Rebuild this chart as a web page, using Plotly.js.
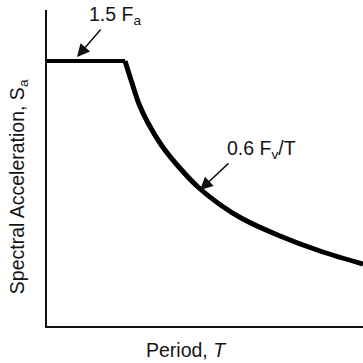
<!DOCTYPE html>
<html>
<head>
<meta charset="utf-8">
<script src="https://cdn.plot.ly/plotly-3.0.1.min.js"></script>
<style>html,body{margin:0;padding:0;background:#fff;}#chart{width:363px;height:363px;}</style>
</head>
<body>
<div id="chart"></div>
<script>
// Plateau segment (1.5 Fa) and descending branch (0.6 Fv/T)
const plateauT = [0, 0.78];
const plateauSa = [2.65, 2.65];
const curveT = [0.78, 0.85, 0.92, 1.01, 1.15, 1.31, 1.51, 1.75, 1.95, 2.33, 2.73, 3.16];
const curveSa = [2.65, 2.43, 2.22, 2.03, 1.80, 1.60, 1.39, 1.20, 1.075, 0.90, 0.75, 0.62];
const labelPlateau = "1.5 F<sub>a</sub>";
const labelCurve = "0.6 F<sub>v</sub>/T";
const xTitle = "Period, <i>T</i>";
const yTitle = "Spectral Acceleration, S<sub>a</sub>";

const font = {family: "Liberation Sans, Arial, sans-serif", size: 19.5, color: "#151515"};
const lineColor = "#000";

const data = [
  {x: plateauT, y: plateauSa, mode: "lines", line: {color: lineColor, width: 4}, hoverinfo: "skip"},
  {x: curveT, y: curveSa, mode: "lines", line: {color: lineColor, width: 5, shape: "spline", smoothing: 1}, hoverinfo: "skip"}
];

const layout = {
  width: 363, height: 363,
  margin: {l: 47, r: 0, t: 10, b: 37},
  paper_bgcolor: "#fff", plot_bgcolor: "#fff",
  showlegend: false,
  font: font,
  xaxis: {range: [0, 3.16], showgrid: false, zeroline: false, showticklabels: false, ticks: "",
          showline: true, linecolor: "#111", linewidth: 2, fixedrange: true},
  yaxis: {range: [0, 3.16], showgrid: false, zeroline: false, showticklabels: false, ticks: "",
          showline: true, linecolor: "#111", linewidth: 2, fixedrange: true},
  annotations: [
    {x: 0.443, y: -0.076, xref: "paper", yref: "paper", text: xTitle, showarrow: false, font: font, xanchor: "center", yanchor: "middle"},
    {x: -0.088, y: 0.44, xref: "paper", yref: "paper", text: yTitle, showarrow: false, font: font, textangle: -90, xanchor: "center", yanchor: "middle"},
    {x: 0.68, y: 3.11, xref: "x", yref: "y", text: labelPlateau, showarrow: false, font: font, xanchor: "center", yanchor: "middle"},
    {x: 0.30, y: 2.69, ax: 0.55, ay: 2.98, xref: "x", yref: "y", axref: "x", ayref: "y", text: "",
     showarrow: true, arrowhead: 2, arrowsize: 1.7, arrowwidth: 1.5, arrowcolor: "#111"},
    {x: 2.14, y: 1.77, xref: "x", yref: "y", text: labelCurve, showarrow: false, font: font, xanchor: "center", yanchor: "middle"},
    {x: 1.53, y: 1.36, ax: 1.83, ay: 1.64, xref: "x", yref: "y", axref: "x", ayref: "y", text: "",
     showarrow: true, arrowhead: 2, arrowsize: 1.7, arrowwidth: 1.5, arrowcolor: "#111"}
  ]
};

Plotly.newPlot("chart", data, layout, {displayModeBar: false, staticPlot: true});
</script>
</body>
</html>
